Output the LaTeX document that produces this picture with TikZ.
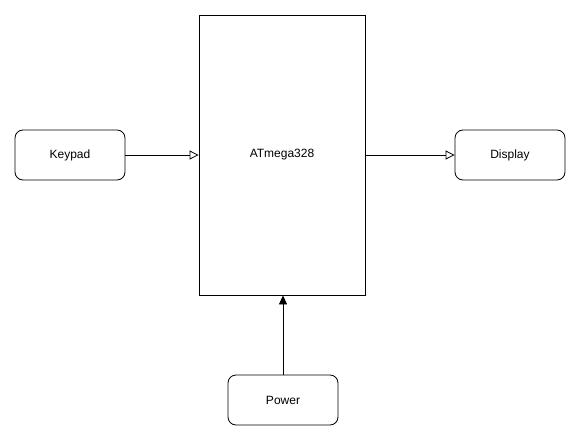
\documentclass[tikz,border=0pt]{standalone}
\usepackage{fontspec}
\setmainfont{Liberation Sans}
\usetikzlibrary{arrows.meta}
\tikzset{
  block/.style={draw, rounded corners=8pt, minimum width=110pt, minimum height=50pt, font=\fontsize{12}{14}\selectfont},
  chip/.style={draw, minimum width=166pt, minimum height=280pt, font=\fontsize{12}{14}\selectfont},
  link/.style={draw, line width=0.8pt, -{Triangle[open, length=9pt, width=9pt]}},
  supply/.style={draw, line width=0.8pt, -{Triangle[length=9pt, width=8pt]}}
}
\begin{document}
\begin{tikzpicture}[x=1pt, y=-1pt, line width=0.8pt]
  \useasboundingbox (0,0) rectangle (581,441);
  \node[chip] (mcu) at (282,155) {ATmega328};
  \node[block] (keypad) at (70,155) {Keypad};
  \node[block] (display) at (510,155) {Display};
  \node[block] (power) at (283,400) {Power};
  \draw[link] (keypad.east) -- (mcu.west);
  \draw[link] (mcu.east) -- (display.west);
  \draw[supply] (power.north) -- (power.north |- mcu.south);
\end{tikzpicture}
\end{document}
